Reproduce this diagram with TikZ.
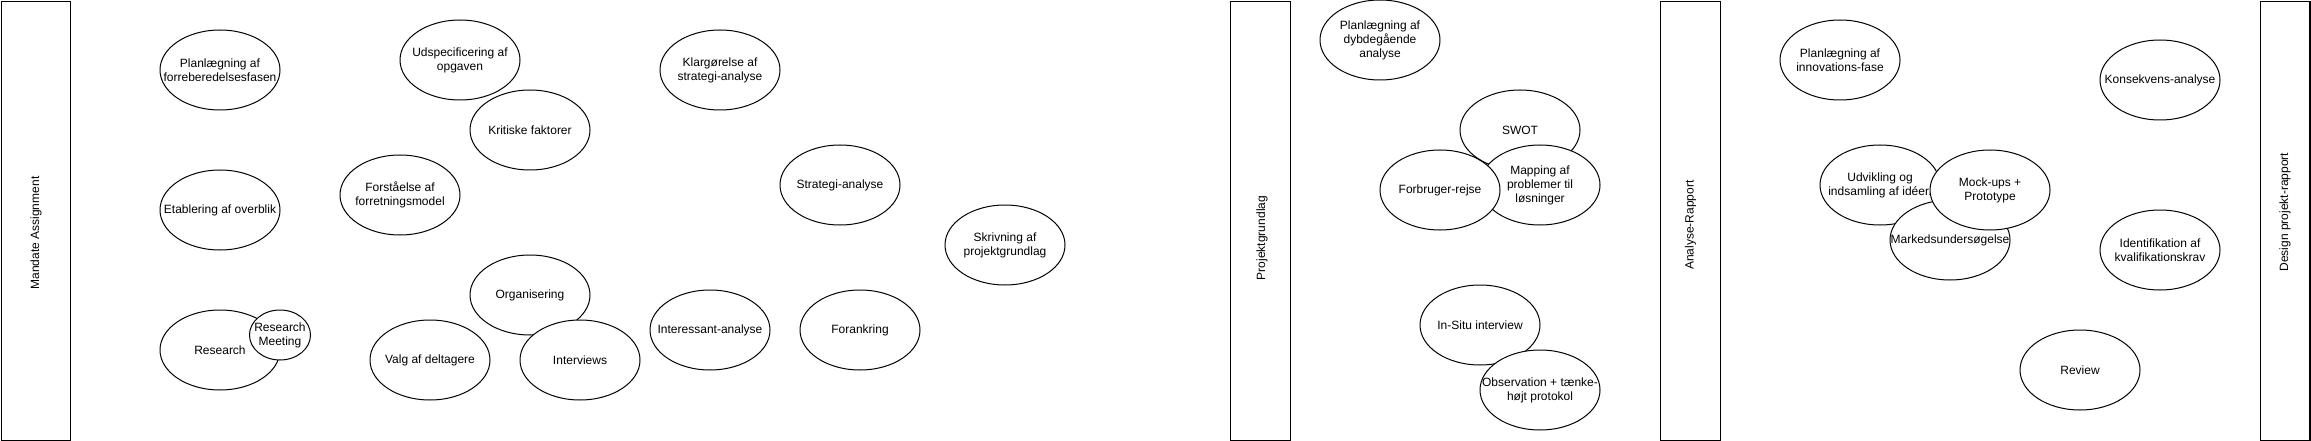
\documentclass[tikz,border=0pt]{standalone}
\usepackage{fontspec}
\setmainfont{Liberation Sans}
\usetikzlibrary{shapes.geometric}
\newcommand{\Bub}[4][]{\node[ell,#1] (#2) at (#3) {}; \node[lbl] (#2-t) at (#2) {#4};}
\begin{document}
\begin{tikzpicture}[x=1pt,y=-1pt,
  ell/.style={ellipse, draw, line width=1pt, fill=white, minimum width=120pt, minimum height=80pt, inner sep=0pt},
  lbl/.style={align=center, font=\fontsize{12}{14}\selectfont, inner sep=0pt},
  lane/.style={draw, line width=1.2pt, inner sep=0pt, anchor=north west, minimum height=439.4pt},
  lanelbl/.style={rotate=90, font=\fontsize{12}{14}\selectfont, inner sep=0pt}]
\fill[white] (0,0) rectangle (2311,441);
\useasboundingbox (0,0) rectangle (2311,441);
% lanes
\node[lane, minimum width=69.4pt] (mandate) at (0.6,0.6) {};
\node[lanelbl] (mandate-t) at (36,233) {Mandate Assignment};
\node[lane, minimum width=60pt] (projekt) at (1230,0.6) {};
\node[lanelbl] (projekt-t) at (1262,238) {Projektgrundlag};
\node[lane, minimum width=60pt] (analyse) at (1660,0.6) {};
\node[lanelbl] (analyse-t) at (1690.5,225) {Analyse-Rapport};
\node[lane, minimum width=49.4pt] (design) at (2260,0.6) {};
\node[lanelbl] (design-t) at (2285,212) {Design projekt-rapport};
% phase 1
\Bub{e1}{220,70}{Planlægning af\\forreberedelsesfasen}
\Bub{e2}{220,210}{Etablering af overblik}
\Bub{e3}{220,350}{Research}
\Bub[minimum width=61pt, minimum height=50pt]{e4}{280,335}{Research\\Meeting}
\Bub{e5}{460,60}{Udspecificering af\\opgaven}
\Bub{e6}{530,130}{Kritiske faktorer}
\Bub{e7}{400,195}{Forståelse af\\forretningsmodel}
\Bub{e8}{530,295}{Organisering}
\Bub{e9}{430,360}{Valg af deltagere}
\Bub{e10}{580,360}{Interviews}
\Bub{e11}{720,70}{Klargørelse af\\strategi-analyse}
\Bub{e12}{840,185}{Strategi-analyse}
\Bub{e13}{1005,245}{Skrivning af\\projektgrundlag}
\Bub{e14}{710,330}{Interessant-analyse}
\Bub{e15}{860,330}{Forankring}
% phase 2
\Bub{f1}{1380,40}{Planlægning af\\dybdegående\\analyse}
\Bub{f2}{1520,130}{SWOT}
\Bub{f3}{1540,185}{Mapping af\\problemer til\\løsninger}
\Bub{f4}{1440,190}{Forbruger-rejse}
\Bub{f5}{1480,325}{In-Situ interview}
\Bub{f6}{1540,390}{Observation + tænke-\\højt protokol}
% phase 3
\Bub{g1}{1840,60}{Planlægning af\\innovations-fase}
\Bub{g2}{2160,80}{Konsekvens-analyse}
\Bub{g3}{1880,185}{Udvikling og\\indsamling af idéer.}
\Bub{g4}{1950,240}{Markedsundersøgelse}
\Bub{g5}{1990,190}{Mock-ups +\\Prototype}
\Bub{g6}{2160,250}{Identifikation af\\kvalifikationskrav}
\Bub{g7}{2080,370}{Review}
\end{tikzpicture}
\end{document}
